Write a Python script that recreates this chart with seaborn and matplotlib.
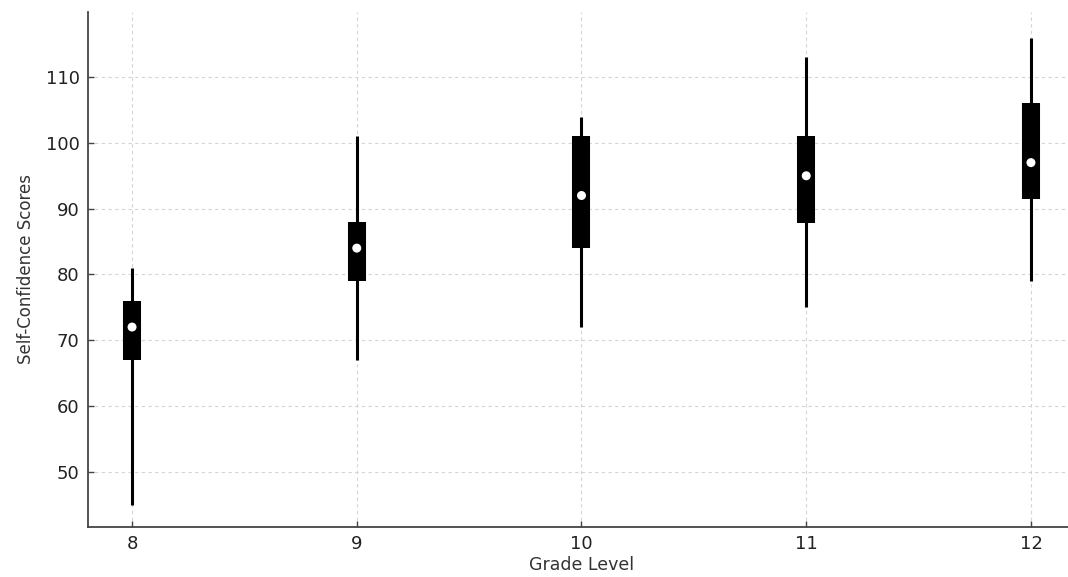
import numpy as np
import pandas as pd
import matplotlib
matplotlib.use('Agg')
import matplotlib.pyplot as plt
import seaborn as sns

# summary stats (per grade)
grades   = [8, 9, 10, 11, 12]
whis_lo  = [45, 67, 72, 75, 79]
q1       = [67, 79, 84, 87.8, 91.5]
medians  = [72, 84, 92, 95, 97]
q3       = [76, 88, 101, 101, 106]
whis_hi  = [81, 101, 104, 113, 116]

df = pd.DataFrame({"grade": grades, "lo": whis_lo, "q1": q1,
                   "med": medians, "q3": q3, "hi": whis_hi})

sns.set_theme(style="white")
plt.rcParams['font.family'] = ['DejaVu Sans']

fig = plt.figure(figsize=(10.68, 5.77), dpi=100)
ax = fig.add_axes([88/1068, 50/577, (1075-88)/1068, (527-12)/577])

# whiskers, boxes, median dots
ax.vlines(df["grade"], df["lo"], df["hi"], color="black", lw=2.2, zorder=3)
ax.vlines(df["grade"], df["q1"], df["q3"], color="black", lw=13, zorder=4)
sns.scatterplot(data=df, x="grade", y="med", color="white", s=42,
                edgecolor="none", zorder=5, ax=ax)

ax.set_xlim(7.804, 12.196)
ax.set_ylim(41.6, 119.9)
ax.set_xticks(grades)
ax.set_yticks([50, 60, 70, 80, 90, 100, 110])
ax.grid(True, linestyle=(0, (3, 3)), color="#d4d4d4", linewidth=0.8)
ax.set_axisbelow(True)

for s in ["top", "right"]:
    ax.spines[s].set_visible(False)
for s in ["left", "bottom"]:
    ax.spines[s].set_color("#444444")
    ax.spines[s].set_linewidth(1.3)

ax.tick_params(axis="both", which="major", labelsize=13, length=4, width=1,
               direction="in", pad=6, color="#444444", labelcolor="#222222",
               bottom=True, left=True)
ax.set_xlabel("Grade Level", fontsize=12.5, color="#333333", labelpad=2)
ax.set_ylabel("Self-Confidence Scores", fontsize=12, color="#333333", labelpad=8)

plt.savefig("out.png", dpi=100)
plt.close()
